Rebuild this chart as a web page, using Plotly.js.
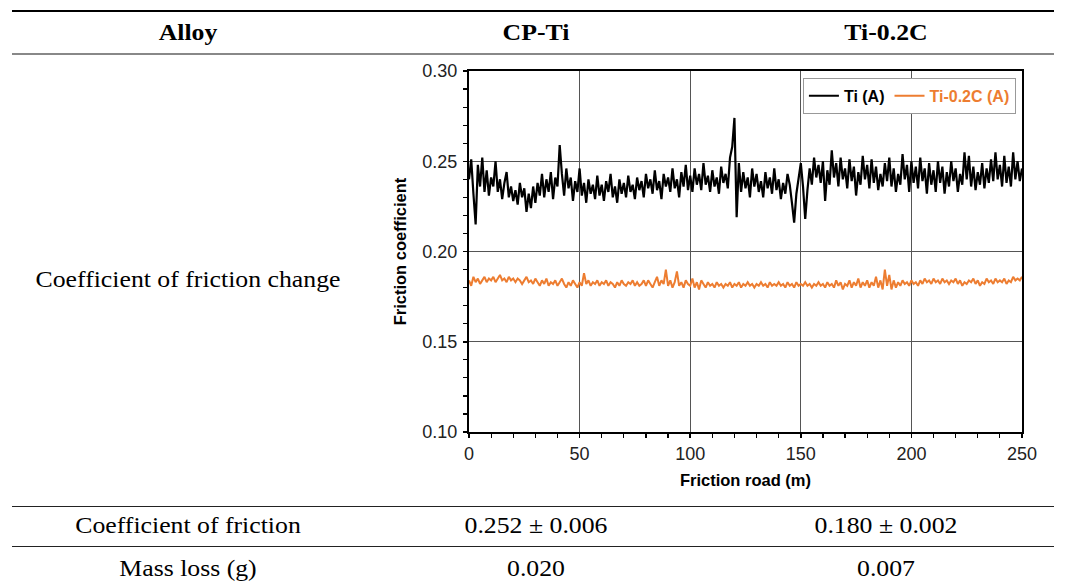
<!DOCTYPE html>
<html>
<head>
<meta charset="utf-8">
<script src="https://cdn.plot.ly/plotly-3.0.1.min.js"></script>
<style>
  html, body { margin:0; padding:0; background:#fff; }
  #page { position:relative; width:1065px; height:588px; overflow:hidden; background:#fff; }
  .t { position:absolute; transform:translate(-50%,-50%) scaleX(1.12); white-space:nowrap; font-family:"Liberation Serif","DejaVu Serif",serif; font-size:23px; color:#000; }
  .b { font-weight:bold; }
  .rule { position:absolute; left:12px; width:1042px; }
  #chart { position:absolute; left:0; top:0; width:1065px; height:588px; }
</style>
</head>
<body>
<div id="page">
  <div class="rule" style="top:10px;height:2px;background:#000;"></div>
  <div class="rule" style="top:53px;height:2px;background:#888;"></div>
  <div class="rule" style="top:506px;height:1px;background:#222;"></div>
  <div class="rule" style="top:546px;height:1px;background:#222;"></div>

  <div class="t b" style="left:188px;top:33px;">Alloy</div>
  <div class="t b" style="left:536px;top:33px;">CP-Ti</div>
  <div class="t b" style="left:886px;top:33px;">Ti-0.2C</div>

  <div class="t" style="left:188px;top:280px;">Coefficient of friction change</div>

  <div class="t" style="left:188px;top:526px;">Coefficient of friction</div>
  <div class="t" style="left:536px;top:526px;">0.252 ± 0.006</div>
  <div class="t" style="left:886px;top:526px;">0.180 ± 0.002</div>

  <div class="t" style="left:188px;top:569px;">Mass loss (g)</div>
  <div class="t" style="left:536px;top:569px;">0.020</div>
  <div class="t" style="left:886px;top:569px;">0.007</div>

  <div id="chart"></div>
</div>
<script>
// Friction road (m) sampled every 1 m from 0 to 250
const distanceStart = 0;
const distanceStep = 1;

// CP-Ti, "Ti (A)" friction coefficient
const tiFriction = [
0.240,0.251,0.232,0.215,0.248,0.236,0.252,0.233,0.245,0.231,
0.241,0.236,0.250,0.233,0.240,0.229,0.238,0.244,0.230,0.236,
0.228,0.234,0.226,0.238,0.230,0.235,0.222,0.232,0.224,0.236,
0.227,0.238,0.231,0.243,0.230,0.240,0.233,0.244,0.229,0.241,
0.236,0.259,0.243,0.231,0.246,0.235,0.241,0.228,0.239,0.233,
0.246,0.231,0.238,0.227,0.240,0.232,0.237,0.229,0.242,0.231,
0.237,0.228,0.239,0.233,0.243,0.230,0.236,0.227,0.240,0.232,
0.238,0.230,0.242,0.233,0.237,0.229,0.241,0.234,0.239,0.230,
0.243,0.235,0.240,0.232,0.245,0.234,0.239,0.229,0.243,0.236,
0.241,0.233,0.246,0.235,0.240,0.230,0.244,0.236,0.248,0.234,
0.242,0.233,0.246,0.237,0.243,0.234,0.249,0.237,0.242,0.233,
0.245,0.236,0.241,0.232,0.247,0.238,0.243,0.235,0.252,0.258,
0.274,0.219,0.249,0.233,0.244,0.235,0.241,0.230,0.246,0.236,
0.243,0.233,0.239,0.230,0.244,0.235,0.241,0.232,0.246,0.234,
0.240,0.229,0.238,0.232,0.243,0.237,0.227,0.216,0.232,0.241,
0.249,0.236,0.218,0.234,0.246,0.237,0.252,0.241,0.248,0.238,
0.250,0.228,0.245,0.237,0.256,0.241,0.249,0.236,0.252,0.240,
0.246,0.235,0.251,0.239,0.247,0.231,0.244,0.237,0.253,0.240,
0.248,0.235,0.251,0.238,0.247,0.234,0.243,0.236,0.249,0.239,
0.252,0.236,0.246,0.233,0.243,0.237,0.254,0.240,0.248,0.233,
0.250,0.238,0.247,0.235,0.252,0.239,0.246,0.232,0.249,0.237,
0.245,0.233,0.250,0.238,0.247,0.232,0.244,0.236,0.250,0.239,
0.246,0.233,0.243,0.237,0.255,0.240,0.253,0.236,0.247,0.234,
0.244,0.237,0.249,0.235,0.246,0.238,0.251,0.239,0.255,0.240,
0.248,0.236,0.253,0.238,0.247,0.236,0.255,0.240,0.250,0.239,
0.246
];

// Ti-0.2C, "Ti-0.2C (A)" friction coefficient
const tiCFriction = [
0.184,0.181,0.186,0.183,0.185,0.182,0.184,0.186,0.183,0.185,
0.184,0.186,0.183,0.185,0.187,0.184,0.185,0.183,0.186,0.184,
0.185,0.183,0.185,0.184,0.182,0.184,0.186,0.183,0.184,0.182,
0.185,0.183,0.181,0.184,0.182,0.185,0.181,0.183,0.182,0.184,
0.181,0.183,0.185,0.182,0.180,0.183,0.181,0.184,0.182,0.180,
0.183,0.181,0.188,0.182,0.184,0.181,0.183,0.182,0.184,0.181,
0.183,0.182,0.184,0.181,0.183,0.182,0.180,0.183,0.181,0.184,
0.182,0.181,0.183,0.182,0.184,0.181,0.183,0.181,0.182,0.184,
0.181,0.184,0.182,0.180,0.183,0.186,0.181,0.184,0.182,0.190,
0.181,0.184,0.180,0.183,0.189,0.181,0.183,0.180,0.184,0.182,
0.181,0.185,0.180,0.183,0.179,0.184,0.182,0.180,0.183,0.181,
0.182,0.180,0.183,0.181,0.182,0.180,0.182,0.181,0.183,0.180,
0.182,0.181,0.183,0.180,0.182,0.181,0.183,0.181,0.182,0.180,
0.182,0.181,0.183,0.181,0.182,0.180,0.183,0.181,0.182,0.181,
0.183,0.181,0.182,0.180,0.183,0.181,0.182,0.180,0.183,0.181,
0.182,0.181,0.183,0.181,0.182,0.180,0.182,0.181,0.183,0.181,
0.182,0.180,0.183,0.181,0.182,0.180,0.184,0.181,0.183,0.179,
0.182,0.181,0.184,0.180,0.183,0.181,0.185,0.180,0.183,0.181,
0.184,0.180,0.183,0.181,0.186,0.180,0.184,0.179,0.190,0.181,
0.187,0.179,0.184,0.180,0.183,0.181,0.184,0.182,0.183,0.181,
0.184,0.182,0.183,0.181,0.184,0.182,0.185,0.183,0.184,0.182,
0.185,0.183,0.184,0.182,0.185,0.183,0.184,0.182,0.184,0.183,
0.185,0.182,0.184,0.181,0.183,0.182,0.184,0.183,0.185,0.182,
0.184,0.181,0.183,0.182,0.185,0.183,0.184,0.182,0.185,0.183,
0.184,0.183,0.185,0.182,0.184,0.183,0.186,0.184,0.185,0.184,
0.186
];

const seriesNames = ['Ti (A)', 'Ti-0.2C (A)'];
const seriesColors = ['#000000', '#ED7D31'];
const xTickValues = [0, 50, 100, 150, 200, 250];
const yTickValues = [0.10, 0.15, 0.20, 0.25, 0.30];

const distance = tiFriction.map((_, i) => distanceStart + i * distanceStep);

const traces = [
  { x: distance, y: tiFriction, type: 'scatter', mode: 'lines',
    name: '<b>' + seriesNames[0] + '</b>',
    line: { color: seriesColors[0], width: 2.2 } },
  { x: distance, y: tiCFriction, type: 'scatter', mode: 'lines',
    name: '<b><span style="color:' + seriesColors[1] + '">' + seriesNames[1] + '</span></b>',
    line: { color: seriesColors[1], width: 2 } }
];

const layout = {
  width: 1065, height: 588,
  margin: { l: 469, r: 43, t: 71, b: 156, pad: 0 },
  paper_bgcolor: 'rgba(0,0,0,0)',
  plot_bgcolor: '#ffffff',
  font: { family: 'Liberation Sans, Arial, sans-serif', size: 18, color: '#222' },
  showlegend: true,
  xaxis: {
    range: [0, 250], tickvals: xTickValues, ticktext: xTickValues.map(String),
    showgrid: true, gridcolor: '#555', gridwidth: 1, zeroline: false,
    showline: true, linecolor: '#000', linewidth: 2, mirror: true,
    ticks: 'outside', ticklen: 4, tickwidth: 1.5, tickcolor: '#000',
    minor: { dtick: 10, tick0: 0, ticks: 'outside', ticklen: 4, tickwidth: 1.2, tickcolor: '#000', showgrid: false },
    title: { text: '<b>Friction road (m)</b>', font: { size: 16.5, color: '#000' }, standoff: 12 }
  },
  yaxis: {
    range: [0.10, 0.30], tickvals: yTickValues, ticktext: yTickValues.map(v => v.toFixed(2)),
    showgrid: true, gridcolor: '#555', gridwidth: 1, zeroline: false,
    showline: true, linecolor: '#000', linewidth: 2, mirror: true,
    ticks: 'outside', ticklen: 4, tickwidth: 1.5, tickcolor: '#000',
    ticklabelstandoff: 2,
    minor: { dtick: 0.01, tick0: 0.10, ticks: 'outside', ticklen: 4, tickwidth: 1.2, tickcolor: '#000', showgrid: false },
    title: { text: '<b>Friction coefficient</b>', font: { size: 16.5, color: '#000' }, standoff: 12 }
  },
  legend: {
    x: 0.989, y: 0.981, xanchor: 'right', yanchor: 'top', orientation: 'h',
    bgcolor: '#ffffff', bordercolor: '#999', borderwidth: 1,
    font: { size: 16, color: '#000' }, itemwidth: 30, tracegroupgap: 0
  }
};

Plotly.newPlot('chart', traces, layout, { displayModeBar: false, staticPlot: true });
</script>
</body>
</html>
